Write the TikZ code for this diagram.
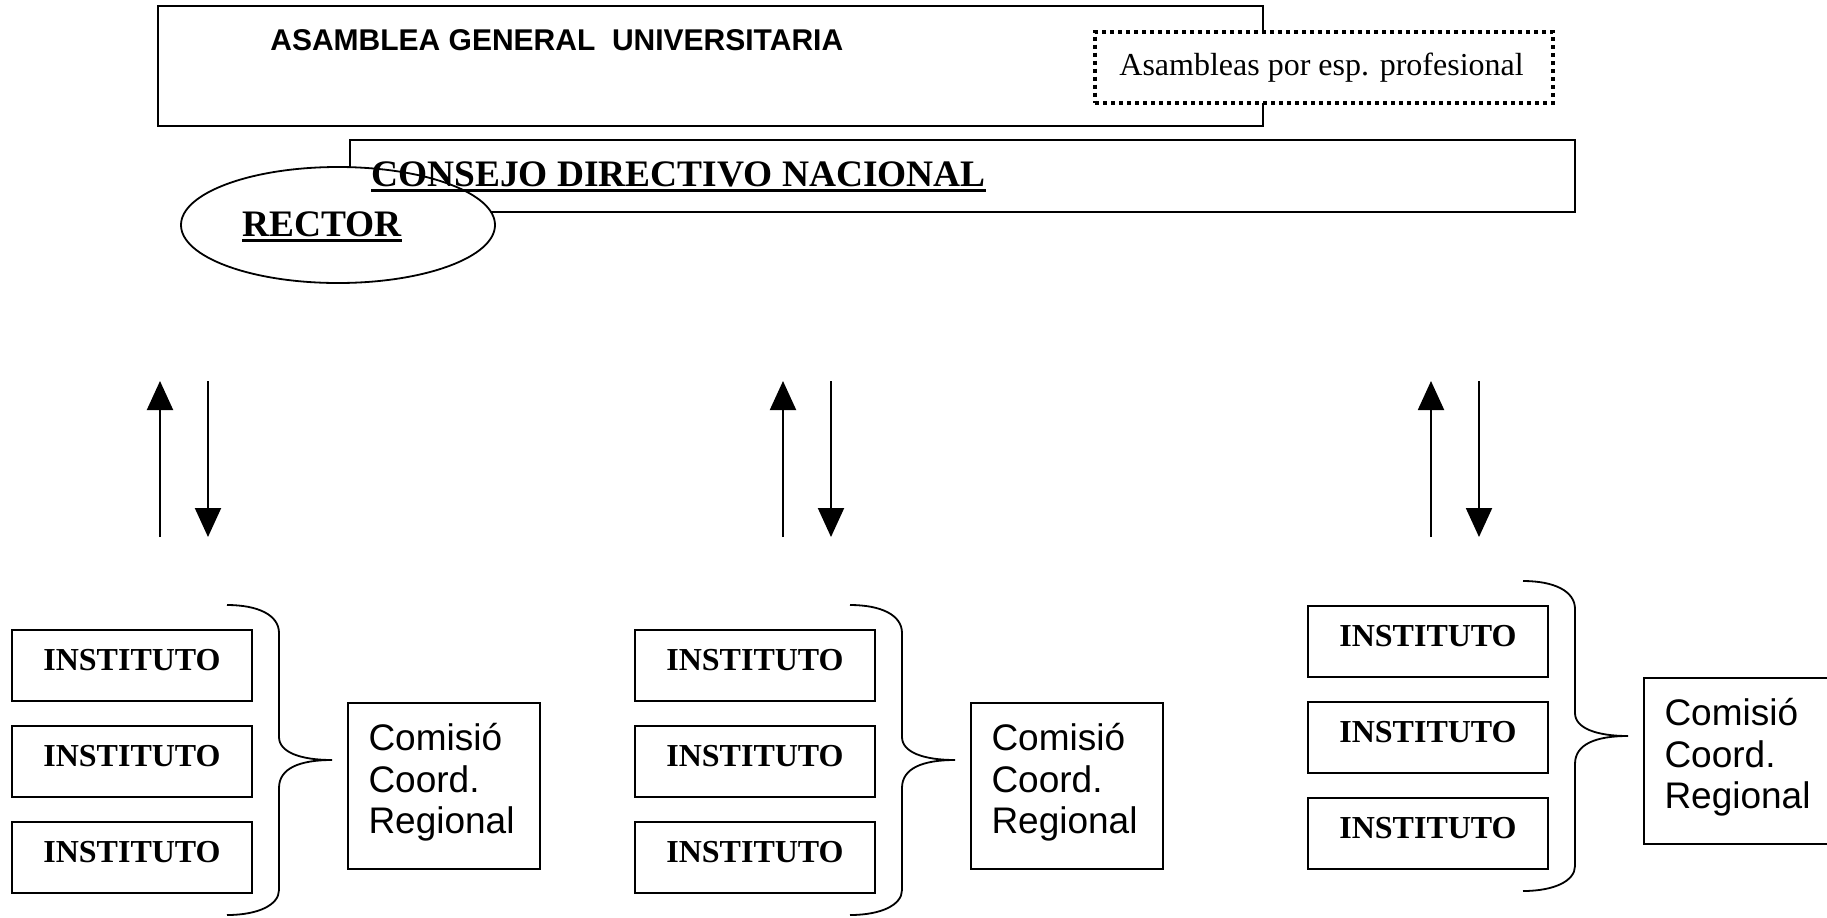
\documentclass[tikz,border=0pt]{standalone}
\usepackage{fontspec}
\setmainfont{Liberation Serif}
\newfontfamily\arialf{Liberation Sans}
\usetikzlibrary{arrows.meta,shapes.geometric}
\newcommand\thickul[1]{\leavevmode\vtop{\hbox{#1}\kern1.2pt\hrule height 1.5pt}}
\begin{document}
\begin{tikzpicture}[x=0.5pt,y=-0.5pt,
  box/.style={draw, line width=0.9pt, fill=white, inner sep=0pt},
  inst/.style={box, minimum width=120pt, minimum height=35.5pt, text depth=6pt, font=\fontsize{16}{19}\selectfont\bfseries},
  combox/.style={box, minimum width=96pt, minimum height=83pt},
  comtext/.style={inner sep=0pt, align=left, anchor=north west, font=\arialf\fontsize{18.5}{20.75}\selectfont},
  arr/.style={line width=1pt, -{Triangle[width=13pt,length=14.5pt]}},
  bracepath/.style={line width=0.9pt}]
\useasboundingbox (0,0) rectangle (1827,917);
\clip (0,0) rectangle (1827,917);
% top
\node[box, minimum width=552.5pt, minimum height=60pt] (asam) at (710.5,66) {};
\node[anchor=base west, inner sep=0pt, font=\arialf\bfseries\fontsize{15}{18}\selectfont] (asamt) at (270,50) {ASAMBLEA GENERAL~~UNIVERSITARIA};
\node[draw, fill=white, line width=2pt, dash pattern=on 2pt off 2pt, minimum width=229pt, minimum height=35.5pt, inner sep=0pt] (esp) at (1324,67) {};
\node[anchor=base west, inner sep=0pt, font=\fontsize{16}{19}\selectfont] (espt) at (1119,75) {Asambleas por esp. profesional};
% consejo
\node[box, minimum width=612.5pt, minimum height=36pt] (cdn) at (962.5,176) {};
\node[box, ellipse, minimum width=157pt, minimum height=58pt] (rector) at (338,225) {};
\node[anchor=base west, inner sep=0pt, font=\fontsize{18.7}{22}\selectfont\bfseries] (cdnt) at (371,186) {\thickul{CONSEJO DIRECTIVO NACIONAL}};
\node[anchor=base west, inner sep=0pt, font=\fontsize{18.7}{22}\selectfont\bfseries] (rectort) at (242,236) {\thickul{RECTOR}};
% arrows
\foreach \g/\ax in {1/0,2/623,3/1271}{
  \coordinate (u\g a) at (160+\ax,537);
  \coordinate (u\g b) at (160+\ax,381);
  \coordinate (d\g a) at (208+\ax,381);
  \coordinate (d\g b) at (208+\ax,537);
  \draw[arr] (u\g a) -- (u\g b);
  \draw[arr] (d\g a) -- (d\g b);
}
% groups
\foreach \g/\dx/\dy/\cy in {1/0/0/786, 2/623/0/786, 3/1296/-24/761}{
  \node[inst] (i\g a) at (132+\dx,665.5+\dy) {INSTITUTO};
  \node[inst] (i\g b) at (132+\dx,761.5+\dy) {INSTITUTO};
  \node[inst] (i\g c) at (132+\dx,857.5+\dy) {INSTITUTO};
  \coordinate (tip\g) at (332+\dx,760+\dy);
  \draw[bracepath] (227+\dx,605+\dy) .. controls (258+\dx,605+\dy) and (279+\dx,615+\dy) .. (279+\dx,633+\dy)
     -- (279+\dx,737+\dy) .. controls (279+\dx,752+\dy) and (300+\dx,760+\dy) .. (tip\g)
     .. controls (300+\dx,760+\dy) and (279+\dx,768+\dy) .. (279+\dx,788+\dy)
     -- (279+\dx,890+\dy) .. controls (279+\dx,905+\dy) and (258+\dx,915+\dy) .. (227+\dx,915+\dy);
  \node[combox] (c\g) at (444+\dx,\cy) {};
  \node[comtext] (c\g t) at ([shift={(21,21)}]c\g.north west) {Comisió\\Coord.\\Regional};
}
\end{tikzpicture}
\end{document}
